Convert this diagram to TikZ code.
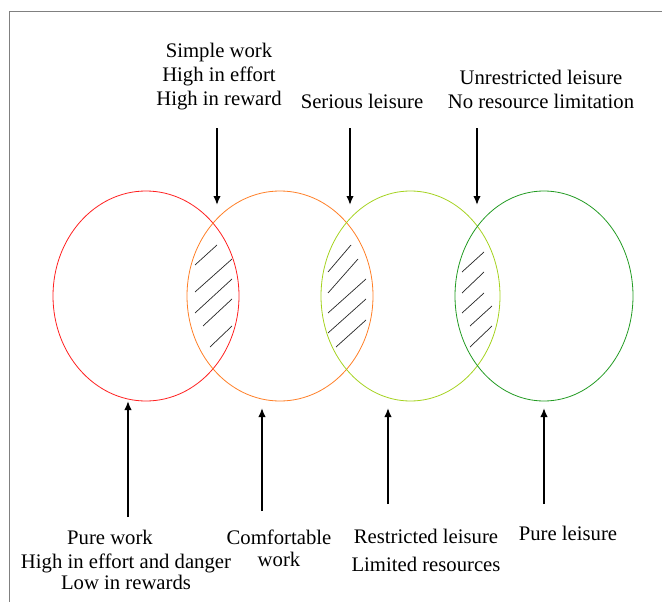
\documentclass[tikz,border=0pt]{standalone}
\usepackage{fontspec}
\setmainfont{Liberation Serif}
\usepackage{xcolor}
\usepackage{tikz}
\usetikzlibrary{arrows.meta, positioning, shapes.geometric}
\definecolor{cwork}{HTML}{FF2020}
\definecolor{ccomf}{HTML}{FF7F27}
\definecolor{crest}{HTML}{A4D21E}
\definecolor{cleis}{HTML}{239B23}

\begin{document}
\begin{tikzpicture}[x=1pt,y=-1pt,
  lbl/.style={align=center,font=\fontsize{20.7}{24}\selectfont},
  ring/.style={draw,ellipse,line width=0.8pt,inner sep=0pt},
  arr/.style={line width=1.6pt,-{Latex[length=9pt,width=7.5pt]}},
  hatch/.style={line width=0.7pt,black!85}]
\useasboundingbox (0,0) rectangle (662,602);
\draw[gray,line width=1pt] (9,602) -- (9,12) -- (662,12);
% circles
\node[ring,cwork,minimum width=186,minimum height=210] (work) at (146,296) {};
\node[ring,ccomf,minimum width=186,minimum height=210] (comf) at (280,296) {};
\node[ring,crest,minimum width=179,minimum height=210] (rest) at (410.5,296) {};
\node[ring,cleis,minimum width=178,minimum height=210] (leis) at (544,296) {};
% hatching
\foreach \a/\b/\c/\d in {195/265/217/245, 195/292/232/259, 195/313/232/279, 203/326/232/299, 210/347/232/326,
  328/272/351/245, 328/293/358/259, 328/313/366/279, 328/333/366/299, 336/347/366/320,
  462/272/484/252, 462/293/484/272, 462/313/484/293, 470/326/492/306, 470/347/492/326}
  \draw[hatch] (\a,\b) -- (\c,\d);
% labels above
\node[lbl] (simple) at (219,77) {Simple work\\ High in effort\\ High in reward};
\node[lbl] (serious) at (362,101) {Serious leisure};
\node[lbl] (unrest) at (541,89.5) {Unrestricted leisure\\ No resource limitation};
% labels below
\node[lbl] (pwork) at (126,560) {Pure work\hspace*{32pt}\\ High in effort and danger\\[-3pt] Low in rewards};
\node[lbl] (cwork) at (279,548) {Comfortable\\[-2pt] work};
\node[lbl] (rleis) at (426,550) {Restricted leisure\\[4pt] Limited resources};
\node[lbl] (pleis) at (568,533) {Pure leisure};
% arrows
\coordinate (s1) at (217,128); \coordinate (e1) at (217,205);
\coordinate (s2) at (350,128); \coordinate (e2) at (350,205);
\coordinate (s3) at (477,128); \coordinate (e3) at (477,205);
\coordinate (b1) at (128,517); \coordinate (t1) at (128,401);
\coordinate (b2) at (262,511); \coordinate (t2) at (262,408);
\coordinate (b3) at (388,504); \coordinate (t3) at (388,408);
\coordinate (b4) at (544,504); \coordinate (t4) at (544,408);
\draw[arr] (s1) -- (e1);
\draw[arr] (s2) -- (e2);
\draw[arr] (s3) -- (e3);
\draw[arr] (b1) -- (t1);
\draw[arr] (b2) -- (t2);
\draw[arr] (b3) -- (t3);
\draw[arr] (b4) -- (t4);
\end{tikzpicture}
\end{document}
